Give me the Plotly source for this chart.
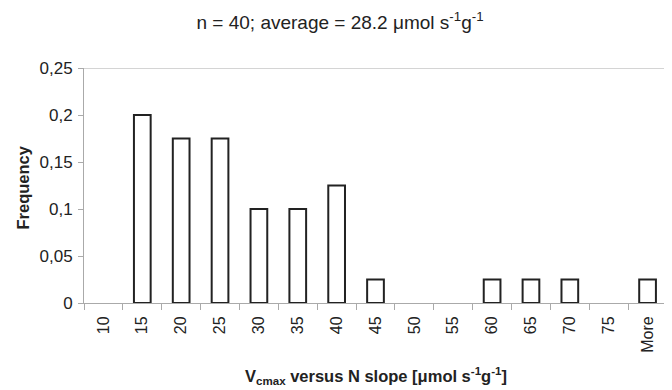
import plotly.graph_objects as go

categories = ["10", "15", "20", "25", "30", "35", "40", "45", "50", "55", "60", "65", "70", "75", "More"]
frequency = [0, 0.2, 0.175, 0.175, 0.1, 0.1, 0.125, 0.025, 0, 0, 0.025, 0.025, 0.025, 0, 0.025]
y_tick_vals = [0, 0.05, 0.1, 0.15, 0.2, 0.25]
y_tick_text = ["0", "0,05", "0,1", "0,15", "0,2", "0,25"]

# empty classes draw no bar at all
bar_heights = [v if v > 0 else None for v in frequency]

fig = go.Figure()
fig.add_trace(go.Bar(
    x=categories, y=bar_heights,
    marker=dict(color="white", line=dict(color="#222", width=2)),
    width=0.43,
))
fig.add_shape(type="line", xref="paper", yref="y", x0=0, x1=1.02, y0=0.25, y1=0.25,
              line=dict(color="#aaa", width=1))

# page body has an 8px default margin, so the figure is 8px smaller
fig.update_layout(
    width=664, height=382,
    margin=dict(l=76, r=5, t=60, b=87),
    paper_bgcolor="white", plot_bgcolor="white",
    font=dict(family="Liberation Sans, Arial, sans-serif", color="#222", size=16),
    title=dict(text="n = 40; average = 28.2 μmol s<sup>-1</sup>g<sup>-1</sup>",
               x=0.5, xanchor="center", y=0.962, yanchor="middle",
               font=dict(size=19)),
    showlegend=False,
)
fig.update_xaxes(
    type="category", tickangle=-90, tickson="boundaries",
    ticks="outside", ticklen=6, tickcolor="#aaa",
    showline=True, linecolor="#aaa", linewidth=1,
    showgrid=False, tickfont=dict(size=16), automargin=False,
    ticklabelstandoff=6,
)
fig.update_yaxes(
    range=[0, 0.25], tickvals=y_tick_vals, ticktext=y_tick_text,
    ticks="outside", ticklen=5, tickcolor="#aaa",
    showline=True, linecolor="#aaa", linewidth=1,
    showgrid=False, zeroline=False, tickfont=dict(size=17), automargin=False,
    ticklabelstandoff=2,
)
fig.add_annotation(
    text="<b>V<sub>cmax</sub> versus N slope [μmol s<sup>-1</sup>g<sup>-1</sup>]</b>",
    xref="paper", yref="paper", x=0.5, y=0, xanchor="center", yanchor="middle",
    yshift=-73, showarrow=False, font=dict(size=16.5),
)
fig.add_annotation(
    text="<b>Frequency</b>", textangle=-90,
    xref="paper", yref="paper", x=0, y=0.5, xanchor="center", yanchor="middle",
    xshift=-62, yshift=-2, showarrow=False, font=dict(size=16.5),
)

fig.write_html("out.html")
